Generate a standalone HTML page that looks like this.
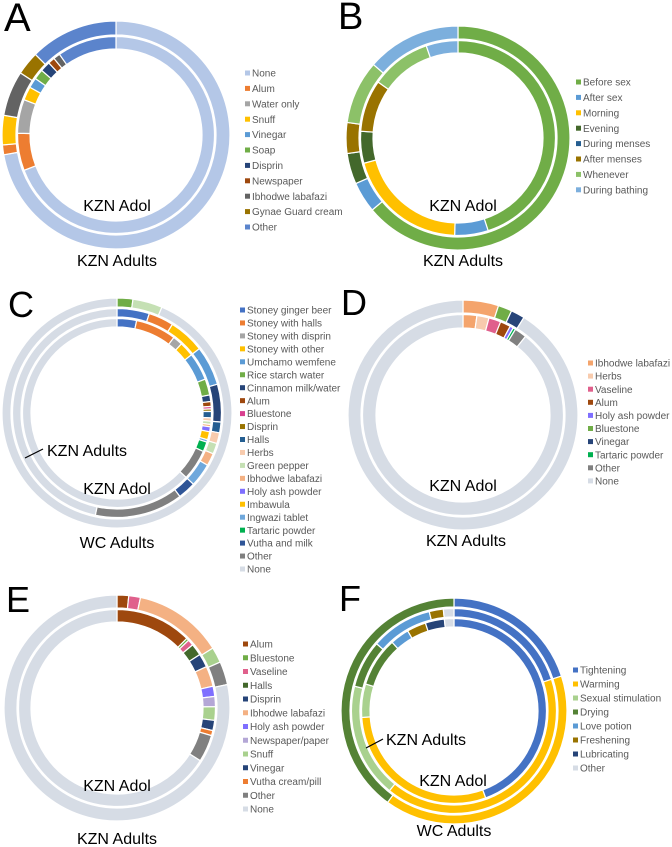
<!DOCTYPE html>
<html><head><meta charset="utf-8"><style>
html,body{margin:0;padding:0;background:#fff}
svg{display:block}
text{font-family:"Liberation Sans",Arial,sans-serif}
.leg{font-size:10px;fill:#595959}
.lab{font-size:16px;fill:#000}
.pl{fill:#000}
</style></head><body>
<svg id="fig" width="672" height="847" viewBox="0 0 672 847">
<g id="labels">
<text class="pl" x="4" y="31" font-size="40">A</text>
<text class="pl" x="338" y="29" font-size="38">B</text>
<text class="pl" x="8" y="317" font-size="36">C</text>
<text class="pl" x="341" y="315" font-size="36">D</text>
<text class="pl" x="6" y="612" font-size="36">E</text>
<text class="pl" x="339" y="611" font-size="36">F</text>
<text class="lab" x="117" y="211" text-anchor="middle">KZN Adol</text>
<text class="lab" x="117" y="266" text-anchor="middle">KZN Adults</text>
<text class="lab" x="463" y="211" text-anchor="middle">KZN Adol</text>
<text class="lab" x="463" y="266" text-anchor="middle">KZN Adults</text>
<text class="lab" x="47" y="456">KZN Adults</text>
<line x1="25" y1="458" x2="43" y2="449" stroke="#000" stroke-width="1.2"/>
<text class="lab" x="117" y="494" text-anchor="middle">KZN Adol</text>
<text class="lab" x="117" y="548" text-anchor="middle">WC Adults</text>
<text class="lab" x="463" y="491" text-anchor="middle">KZN Adol</text>
<text class="lab" x="466" y="546" text-anchor="middle">KZN Adults</text>
<text class="lab" x="117" y="791" text-anchor="middle">KZN Adol</text>
<text class="lab" x="117" y="844" text-anchor="middle">KZN Adults</text>
<text class="lab" x="386" y="745">KZN Adults</text>
<line x1="366" y1="748" x2="383" y2="739" stroke="#000" stroke-width="1.2"/>
<text class="lab" x="453" y="786" text-anchor="middle">KZN Adol</text>
<text class="lab" x="454" y="836" text-anchor="middle">WC Adults</text>
</g>
</svg>
<script>
// Panel A
const aCats=["None","Alum","Water only","Snuff","Vinegar","Soap","Disprin","Newspaper","Ibhodwe labafazi","Gynae Guard cream","Other"];
const aAdults=[260,5,0,15,0,0,0,0,23,12,45];
const aAdol=[249,22,20,8,6,6,6,4,4,0,35];
const aColors=["#b4c7e7","#ed7d31","#a5a5a5","#ffc000","#5b9bd5","#70ad47","#264478","#9e480e","#636363","#997300","#5b84cc"];
// Panel B
const bCats=["Before sex","After sex","Morning","Evening","During menses","After menses","Whenever","During bathing"];
const bAdults=[230,16,0,16,0,16,33,49];
const bAdol=[162,20,73,19,0,31,36,19];
const bColors=["#70ad47","#5b9bd5","#ffc000","#43682b","#255e91","#997300","#8cc168","#7cafdd"];
// Panel C
const cCats=["Stoney ginger beer","Stoney with halls","Stoney with disprin","Stoney with other","Umchamo wemfene","Rice starch water","Cinnamon milk/water","Alum","Bluestone","Disprin","Halls","Herbs","Green pepper","Ibhodwe labafazi","Holy ash powder","Imbawula","Ingwazi tablet","Tartaric powder","Vutha and milk","Other","None"];
const cWC=[0,0,0,0,0,8,0,0,0,0,0,0,15,0,0,0,0,0,0,0,337];
const cKznAdults=[18,14,0,20,22,0,21,0,0,0,6,6,6,7,0,0,13,0,10,49,168];
const cKznAdol=[12,25,6,9,17,10,4,3,1.5,1.5,4,2,2,1.5,3,5,1.5,6,0,19,227];
const cColors=["#4472c4","#ed7d31","#a5a5a5","#ffc000","#5b9bd5","#70ad47","#264478","#9e480e","#d9408f","#997300","#255e91","#f8cbad","#c5e0b4","#f4b183","#7f6fff","#ffc000","#6fa8dc","#00b050","#2f5597","#808080","#d6dce5"];
// Panel D
const dCats=["Ibhodwe labafazi","Herbs","Vaseline","Alum","Holy ash powder","Bluestone","Vinegar","Tartaric powder","Other","None"];
const dAdults=[18,0,0,0,0,7,7,0,0,328];
const dAdol=[8,7,7,6,2,0,0,1.5,7,321.5];
const dColors=["#f4a46c","#f8cbad","#e0608c","#9e480e","#7f6fff","#70ad47","#264478","#00b050","#808080","#d6dce5"];
// Panel E
const eCats=["Alum","Bluestone","Vaseline","Halls","Disprin","Ibhodwe labafazi","Holy ash powder","Newspaper/paper","Snuff","Vinegar","Vutha cream/pill","Other","None"];
const eAdults=[6,0,6,0,0,46,0,0,8,0,0,12,282];
const eAdol=[45,1.5,3.5,7,8,12,6,6,8,6,3,16,237];
const eColors=["#9e480e","#70ad47","#e0608c","#43682b","#264478","#f4b183","#7f6fff","#b4a7d6","#a9d18e","#264478","#ed7d31","#808080","#d6dce5"];
// Panel F
const fCats=["Tightening","Warming","Sexual stimulation","Drying","Love potion","Freshening","Lubricating","Other"];
const fWC=[72,144,0,144,0,0,0,0];
const fKznAdults=[72,147,65,27,35,8,0,6];
const fKznAdol=[160,106,21,31,12,12,12,6];
const fColors=["#4472c4","#ffc000","#a9d18e","#548235","#5b9bd5","#997300","#264478","#d6dce5"];

const NS="http://www.w3.org/2000/svg";
const svg=document.getElementById("fig");
function pt(cx,cy,r,a){const t=a*Math.PI/180;return [cx+r*Math.sin(t),cy-r*Math.cos(t)];}
function arcPath(cx,cy,r0,r1,a0,a1){
  const big=(a1-a0)>180?1:0;
  const p1=pt(cx,cy,r1,a0),p2=pt(cx,cy,r1,a1),p3=pt(cx,cy,r0,a1),p4=pt(cx,cy,r0,a0);
  return `M${p1[0]},${p1[1]}A${r1},${r1} 0 ${big} 1 ${p2[0]},${p2[1]}L${p3[0]},${p3[1]}A${r0},${r0} 0 ${big} 0 ${p4[0]},${p4[1]}Z`;
}
function ring(panel,ringName,cx,cy,r0,r1,values,cats,colors){
  const g=document.createElementNS(NS,"g");
  
  
  const total=values.reduce((s,v)=>s+v,0);
  let a=0;
  values.forEach((v,i)=>{
    if(v<=0)return;
    const span=v/total*360;
    const p=document.createElementNS(NS,"path");
    p.setAttribute("d",arcPath(cx,cy,r0,r1,a,Math.min(a+span,359.999)));
    p.setAttribute("fill",colors[i]);
    p.setAttribute("stroke","#fff");
    p.setAttribute("stroke-width","1.2");
    
    
    g.appendChild(p);
    a+=span;
  });
  svg.appendChild(g);
}
function legend(panel,x,y,step,cats,colors,fs){
  cats.forEach((c,i)=>{
    const yy=y+i*step;
    const r=document.createElementNS(NS,"rect");
    r.setAttribute("x",x);r.setAttribute("y",yy-2.5);r.setAttribute("width",5);r.setAttribute("height",5);
    r.setAttribute("fill",colors[i]);
    
    
    svg.appendChild(r);
    const t=document.createElementNS(NS,"text");
    t.setAttribute("x",x+7);t.setAttribute("y",yy+3.6);
    t.setAttribute("class","leg");
    if(fs)t.setAttribute("font-size",fs);
    t.textContent=c;
    
    
    svg.appendChild(t);
  });
}
// A
ring("a","outer",116,135,100,114,aAdults,aCats,aColors);
ring("a","inner",116,135,86,98.5,aAdol,aCats,aColors);
legend("a",245,73,15.4,aCats,aColors);
// B
ring("b","outer",458,138,99,112,bAdults,bCats,bColors);
ring("b","inner",458,138,85,97.5,bAdol,bCats,bColors);
legend("b",576,82,15.4,bCats,bColors,"10.5");
// C
ring("c","outer",117,413,106,115,cWC,cCats,cColors);
ring("c","middle",117,413,96,104.5,cKznAdults,cCats,cColors);
ring("c","inner",117,413,86,94.5,cKznAdol,cCats,cColors);
legend("c",240,310,12.95,cCats,cColors);
// D
ring("d","outer",463,415,102,115,dAdults,dCats,dColors);
ring("d","inner",463,415,87,100.5,dAdol,dCats,dColors);
legend("d",588,363,13.1,dCats,dColors);
// E
ring("e","outer",117,708,100,113,eAdults,eCats,eColors);
ring("e","inner",117,708,86,98.5,eAdol,eCats,eColors);
legend("e",243,644,13.75,eCats,eColors);
// F
ring("f","outer",454,711,104,113,fWC,fCats,fColors);
ring("f","middle",454,711,94,102.5,fKznAdults,fCats,fColors);
ring("f","inner",454,711,84,92.5,fKznAdol,fCats,fColors);
legend("f",573,670,14,fCats,fColors,"11");
// labels on top
svg.appendChild(document.getElementById("labels"));
</script>
</body></html>
